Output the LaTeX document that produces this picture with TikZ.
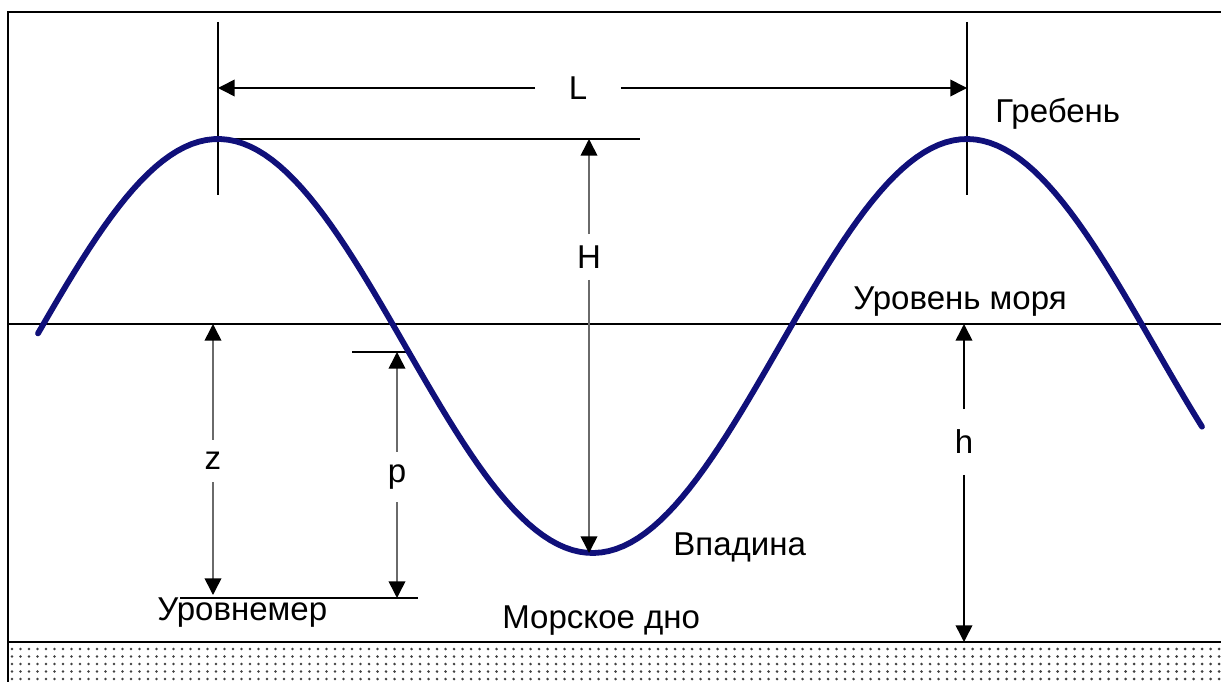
\documentclass[tikz,border=0pt]{standalone}
\usepackage{fontspec}
\setmainfont{Liberation Sans}
\usepackage{tikz}
\usetikzlibrary{arrows.meta,positioning,calc}
\definecolor{navy}{HTML}{10107A}
\definecolor{dimgray}{HTML}{6A6A6A}

\tikzset{
  wave/.style={navy, line width=3.3pt, line cap=round, line join=round},
  guide/.style={black, line width=0.7pt},
  dimline/.style={dimgray, line width=0.9pt, -{Triangle[length=9.5pt,width=9.5pt,color=black]}},
  lbl/.style={font=\fontsize{18.8}{22}\selectfont, inner sep=0pt},
  sym/.style={lbl, align=center},
}

\begin{document}
\begin{tikzpicture}[x=0.02cm, y=-0.02cm]
      \useasboundingbox (0,0) rectangle (1221,682);
      % Outer frame
      \draw[guide] (8,690) -- (8,12) -- (1225,12);
      % Sea floor (dotted)
      \begin{scope}
        \clip (8,642) rectangle (1221,682);
        \foreach \r in {0,...,4}{
          \foreach \c in {0,...,142}{
            \fill[black!75] ({12+8.5*\c},{649+7.5*\r}) circle (0.85pt);
          }
        }
      \end{scope}
      \draw[guide, line width=1.1pt] (8,642) -- (1221,642);
      % Key points
      \coordinate (crestA) at (218,139);
      \coordinate (crestB) at (967,139);
      \coordinate (trough) at (589,553);
      % Guide lines
      \draw[guide] (218,22) -- (218,195);
      \draw[guide] (967,22) -- (967,195);
      \draw[guide] (crestA) -- (640,139);
      \draw[guide] (8,324) -- (1221,324);
      \draw[guide] (352,352) -- (408,352);
      \draw[guide] (180,598) -- (418,598);
      % Wave profile
      \draw[wave] plot[domain=38:1202, samples=160] (\x, {346-207*cos(0.48064*(\x-218))});
      % Dimension ends
      \coordinate (LLeft) at (218,88);
      \coordinate (LRight) at (967,88);
      \coordinate (HTop) at (589,139);
      \coordinate (HBot) at (589,553);
      \coordinate (zTop) at (213,324);
      \coordinate (zBot) at (213,595);
      \coordinate (pTop) at (397,352);
      \coordinate (pBot) at (397,598);
      \coordinate (hTop) at (964,324);
      \coordinate (hBot) at (964,642);
      % Dimension labels
      \node[sym, minimum width=1.7cm] (Llab) at (578,88) {L};
      \node[sym, minimum height=0.9cm] (Hlab) at (589,257) {H};
      \node[sym, minimum height=0.84cm] (zlab) at (213,461) {z};
      \node[sym, minimum height=1.0cm] (plab) at (397,477) {p};
      \node[sym, minimum height=1.3cm] (hlab) at (964,442) {h};
      % Dimension arrows
      \draw[dimline, black] (Llab.west) -- (LLeft);
      \draw[dimline, black] (Llab.east) -- (LRight);
      \draw[dimline] (Hlab.north) -- (HTop);
      \draw[dimline] (Hlab.south) -- (HBot);
      \draw[dimline] (zlab.north) -- (zTop);
      \draw[dimline] (zlab.south) -- (zBot);
      \draw[dimline] (plab.north) -- (pTop);
      \draw[dimline] (plab.south) -- (pBot);
      \draw[dimline, black] (hlab.north) -- (hTop);
      \draw[dimline, black] (hlab.south) -- (hBot);
      % Captions
      \node[lbl, anchor=base west] (crest) at (995,123) {Гребень};
      \node[lbl, anchor=base west] (sealevel) at (853,310) {Уровень моря};
      \node[lbl, anchor=base west] (troughlab) at (673,555) {Впадина};
      \node[lbl, anchor=base west] (gauge) at (157,620) {Уровнемер};
      \node[lbl, anchor=base west] (seabed) at (502,628) {Морское дно};
    \end{tikzpicture}
\end{document}
